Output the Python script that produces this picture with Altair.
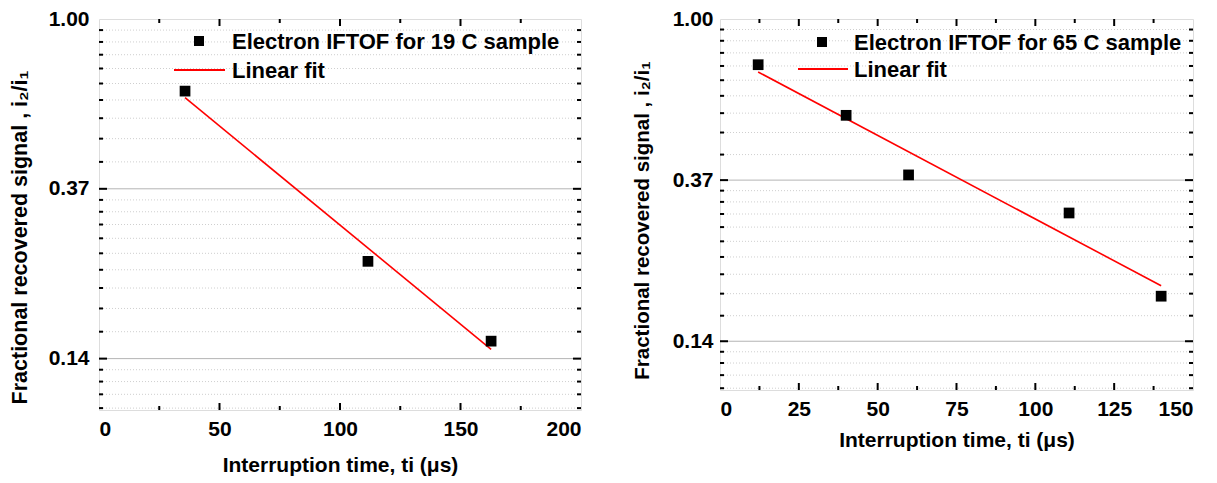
import altair as alt
import numpy as np
import pandas as pd

FONT = "Liberation Sans"

# ---- data: 19 C sample (left) ----
t19 = [35.7, 111.6, 162.7]
r19 = [0.654, 0.240, 0.150]
fit19_t = [35.7, 162.7]
fit19_r = [0.629, 0.143]

# ---- data: 65 C sample (right) ----
t65 = [12.1, 40.0, 59.8, 110.7, 139.9]
r65 = [0.753, 0.550, 0.380, 0.300, 0.179]
fit65_t = [12.1, 139.9]
fit65_r = [0.720, 0.191]

# ---- axis ticks ----
y_major = [float(np.exp(-2)), float(np.exp(-1)), 1.0]
y_grid_major = [float(np.exp(-2)), float(np.exp(-1))]
y_minor = []
for lo, hi in [(np.exp(-3), np.exp(-2)), (np.exp(-2), np.exp(-1)), (np.exp(-1), 1.0)]:
    step = (hi - lo) / 10.0
    for k in range(1, 10):
        v = lo + k * step
        if 0.1 < v < 1.0:
            y_minor.append(float(v))

YTITLE = "Fractional recovered signal , i\u2082/i\u2081"
XTITLE = "Interruption time, ti (\u03bcs)"

TICK_FS = 21
TITLE_FS = 21
LEG_FS = 22


def panel(t, r, ft, fr, xmax, xmajor, xminor, W, H, legend_label,
          lab_pad_y, title_pad_y, title_y, title_fs_y, title_pad_x, leg):
    pts = pd.DataFrame({"t": t, "r": r})
    fit = pd.DataFrame({"t": ft, "r": fr})
    xscale = alt.Scale(domain=[0, xmax], nice=False, zero=False)
    yscale = alt.Scale(type="log", base=float(np.e), domain=[0.1, 1.0], nice=False)
    xaxis = alt.Axis(values=xmajor, format="d", tickSize=0, domain=False, grid=False,
                     labelFont=FONT, labelFontSize=TICK_FS, labelFontWeight="bold",
                     labelColor="black", labelPadding=8, labelOverlap=False,
                     title=XTITLE, titleFont=FONT, titleFontSize=TITLE_FS,
                     titleFontWeight="bold", titleColor="black",
                     titlePadding=title_pad_x)
    yaxis = alt.Axis(values=y_major, format=".2f", tickSize=0, domain=False, grid=False,
                     labelFont=FONT, labelFontSize=TICK_FS, labelFontWeight="bold",
                     labelColor="black", labelPadding=lab_pad_y, labelOverlap=False,
                     labelBound=False,
                     title=YTITLE, titleFont=FONT, titleFontSize=title_fs_y,
                     titleFontWeight="bold", titleColor="black",
                     titlePadding=title_pad_y, titleY=title_y)

    def X(f="t"):
        return alt.X(f, type="quantitative", scale=xscale, axis=xaxis)

    def Y(f="r"):
        return alt.Y(f, type="quantitative", scale=yscale, axis=yaxis)

    ymin_df = pd.DataFrame({"r": y_minor})
    ymaj_df = pd.DataFrame({"r": y_grid_major})
    ytick_df = pd.DataFrame({"r": [float(np.exp(-2)), float(np.exp(-1))]})
    xmaj_df = pd.DataFrame({"t": xmajor[1:-1]})
    xmin_df = pd.DataFrame({"t": xminor})

    layers = [
        alt.Chart(ymin_df).mark_rule(color="#cfcfcf", strokeWidth=1, strokeDash=[1, 2]).encode(y=Y()),
        alt.Chart(ymaj_df).mark_rule(color="#b4b4b4", strokeWidth=1).encode(y=Y()),
        # inward ticks: y minor left/right
        alt.Chart(ymin_df).mark_rule(color="black", strokeWidth=2).encode(y=Y(), x=alt.value(0), x2=alt.value(4)),
        alt.Chart(ymin_df).mark_rule(color="black", strokeWidth=2).encode(y=Y(), x=alt.value(W - 4), x2=alt.value(W)),
        alt.Chart(ytick_df).mark_rule(color="black", strokeWidth=2).encode(y=Y(), x=alt.value(0), x2=alt.value(8)),
        alt.Chart(ytick_df).mark_rule(color="black", strokeWidth=2).encode(y=Y(), x=alt.value(W - 8), x2=alt.value(W)),
        # inward ticks: x
        alt.Chart(xmaj_df).mark_rule(color="black", strokeWidth=2).encode(x=X(), y=alt.value(H - 7), y2=alt.value(H)),
        alt.Chart(xmaj_df).mark_rule(color="black", strokeWidth=2).encode(x=X(), y=alt.value(0), y2=alt.value(7)),
        alt.Chart(xmin_df).mark_rule(color="black", strokeWidth=2).encode(x=X(), y=alt.value(H - 4), y2=alt.value(H)),
        alt.Chart(xmin_df).mark_rule(color="black", strokeWidth=2).encode(x=X(), y=alt.value(0), y2=alt.value(4)),
        # fit line and data
        alt.Chart(fit).mark_line(color="#ff0000", strokeWidth=1.6).encode(x=X(), y=Y()),
        alt.Chart(pts).mark_square(size=115, color="black", opacity=1).encode(x=X(), y=Y()),
    ]
    # legend
    ldf1 = pd.DataFrame({"label": [legend_label]})
    ldf2 = pd.DataFrame({"label": ["Linear fit"]})
    layers += [
        alt.Chart(ldf1).mark_square(size=100, color="black", opacity=1).encode(
            x=alt.value(leg["sq"][0]), y=alt.value(leg["sq"][1])),
        alt.Chart(ldf1).mark_text(align="left", baseline="middle", font=FONT, fontSize=LEG_FS,
                                  fontWeight="bold", color="black").encode(
            x=alt.value(leg["tx"]), y=alt.value(leg["sq"][1] + 1), text="label:N"),
        alt.Chart(ldf2).mark_rule(color="#ff0000", strokeWidth=2).encode(
            x=alt.value(leg["ln"][0]), x2=alt.value(leg["ln"][1]), y=alt.value(leg["ln"][2])),
        alt.Chart(ldf2).mark_text(align="left", baseline="middle", font=FONT, fontSize=LEG_FS,
                                  fontWeight="bold", color="black").encode(
            x=alt.value(leg["tx"]), y=alt.value(leg["ln"][2] + 1), text="label:N"),
    ]
    return alt.layer(*layers).properties(width=W, height=H)


left = panel(t19, r19, fit19_t, fit19_r, 200, [0, 50, 100, 150, 200], [25, 75, 125, 175],
             482, 391, "Electron IFTOF for 19 C sample",
             lab_pad_y=10, title_pad_y=17, title_y=218, title_fs_y=21.5, title_pad_x=15,
             leg={"sq": (100, 22), "tx": 133, "ln": (75, 126, 51)})
right = panel(t65, r65, fit65_t, fit65_r, 150, [0, 25, 50, 75, 100, 125, 150],
              [12.5, 37.5, 62.5, 87.5, 112.5, 137.5],
              473, 371, "Electron IFTOF for 65 C sample",
              lab_pad_y=7, title_pad_y=20, title_y=201, title_fs_y=20.5, title_pad_x=10,
              leg={"sq": (102, 23), "tx": 134, "ln": (78, 128, 50)})

chart = alt.hconcat(left, right, spacing=48).properties(
    padding={"left": 0, "top": -1, "right": 5, "bottom": 5}
).configure_view(stroke="black", strokeWidth=2).configure(background="white")

chart.save("out.html", embed_options={"renderer": "svg", "actions": False})
